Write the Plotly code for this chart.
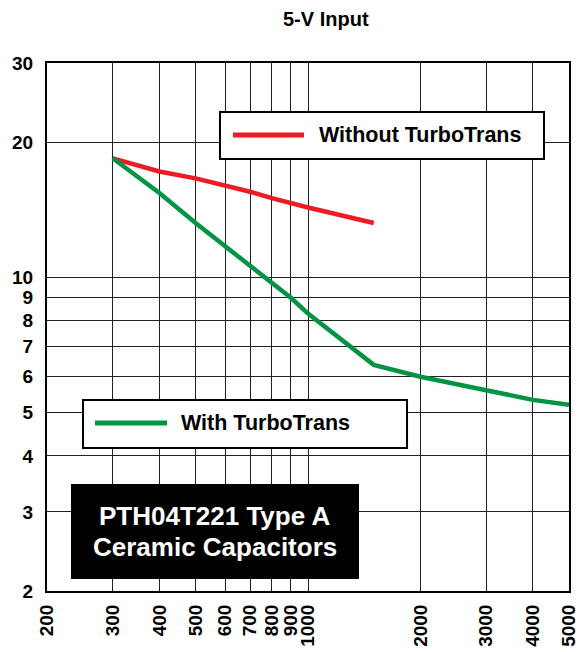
import plotly.graph_objects as go

# Data
freq_without = [300, 400, 500, 600, 700, 800, 900, 1000, 1500]
cap_without = [18.4, 17.2, 16.6, 16.0, 15.5, 15.0, 14.6, 14.3, 13.2]

freq_with = [300, 400, 500, 600, 700, 800, 900, 1000, 1500, 2000, 2500, 3000, 4000, 5000]
cap_with = [18.4, 15.4, 13.2, 11.7, 10.6, 9.7, 9.0, 8.3, 6.38, 6.0, 5.76, 5.6, 5.33, 5.2]

x_ticks = [200, 300, 400, 500, 600, 700, 800, 900, 1000, 2000, 3000, 4000, 5000]
y_ticks = [2, 3, 4, 5, 6, 7, 8, 9, 10, 20, 30]

RED = "#ED1C24"
GREEN = "#009444"
FONT = "Arial, Liberation Sans, sans-serif"

fig = go.Figure()
fig.add_trace(go.Scatter(x=freq_without, y=cap_without, mode="lines",
                         line=dict(color=RED, width=4.5), name="Without TurboTrans",
                         showlegend=False))
fig.add_trace(go.Scatter(x=freq_with, y=cap_with, mode="lines",
                         line=dict(color=GREEN, width=4.5), name="With TurboTrans",
                         showlegend=False))

axis_common = dict(
    showline=True, linecolor="black", linewidth=2, mirror=True,
    showgrid=True, gridcolor="#222222", gridwidth=1,
    zeroline=False, ticks="", ticklabeloverflow="allow", automargin=False,
    tickfont=dict(family=FONT, size=19, color="black", weight="bold"),
)

fig.update_xaxes(type="log", range=[2.30103, 3.69897],
                 tickvals=x_ticks, ticktext=[str(v) for v in x_ticks],
                 tickangle=-90, ticklabelstandoff=4, **axis_common)
fig.update_yaxes(type="log", range=[0.30103, 1.4771],
                 tickvals=y_ticks, ticktext=[str(v) for v in y_ticks],
                 ticklabelstandoff=8, **axis_common)

shapes = [
    # legend box 1
    dict(type="rect", xref="paper", yref="paper", x0=0.3314, x1=0.9521, y0=0.8182, y1=0.9072,
         line=dict(color="black", width=2), fillcolor="white", layer="above"),
    dict(type="line", xref="paper", yref="paper", x0=0.3563, x1=0.4923, y0=0.8636, y1=0.8636,
         line=dict(color=RED, width=5)),
    # legend box 2
    dict(type="rect", xref="paper", yref="paper", x0=0.069, x1=0.6897, y0=0.2708, y1=0.3617,
         line=dict(color="black", width=2), fillcolor="white", layer="above"),
    dict(type="line", xref="paper", yref="paper", x0=0.092, x1=0.2299, y0=0.3182, y1=0.3182,
         line=dict(color=GREEN, width=5)),
    # black label box
    dict(type="rect", xref="paper", yref="paper", x0=0.046, x1=0.5977, y0=0.0227, y1=0.2027,
         line=dict(color="black", width=0), fillcolor="black", layer="above"),
]

annotations = [
    dict(text="5-V Input", xref="paper", yref="paper", x=0.5345, y=1.0833,
         showarrow=False, xanchor="center", yanchor="middle",
         font=dict(family=FONT, size=20, color="black", weight="bold")),
    dict(text="Without TurboTrans", xref="paper", yref="paper", x=0.5172, y=0.8636,
         showarrow=False, xanchor="left", yanchor="middle",
         font=dict(family=FONT, size=21.5, color="black", weight="bold")),
    dict(text="With TurboTrans", xref="paper", yref="paper", x=0.2529, y=0.3182,
         showarrow=False, xanchor="left", yanchor="middle",
         font=dict(family=FONT, size=21.5, color="black", weight="bold")),
    dict(text="PTH04T221 Type A", xref="paper", yref="paper", x=0.3218, y=0.142,
         showarrow=False, xanchor="center", yanchor="middle",
         font=dict(family=FONT, size=26, color="white", weight="bold")),
    dict(text="Ceramic Capacitors", xref="paper", yref="paper", x=0.3218, y=0.0833,
         showarrow=False, xanchor="center", yanchor="middle",
         font=dict(family=FONT, size=26, color="white", weight="bold")),
]

fig.update_layout(
    width=580, height=652,
    margin=dict(l=47, r=11, t=63, b=61, autoexpand=False),
    paper_bgcolor="white", plot_bgcolor="white",
    shapes=shapes, annotations=annotations,
    showlegend=False,
)

fig.write_html("out.html", config={"displayModeBar": False})

# remove the default page margin so the figure sits at the window's top-left corner
with open("out.html", "r", encoding="utf-8") as f:
    html = f.read()
html = html.replace("<head>", "<head><style>html,body{margin:0;padding:0;overflow:hidden;}</style>", 1)
with open("out.html", "w", encoding="utf-8") as f:
    f.write(html)
